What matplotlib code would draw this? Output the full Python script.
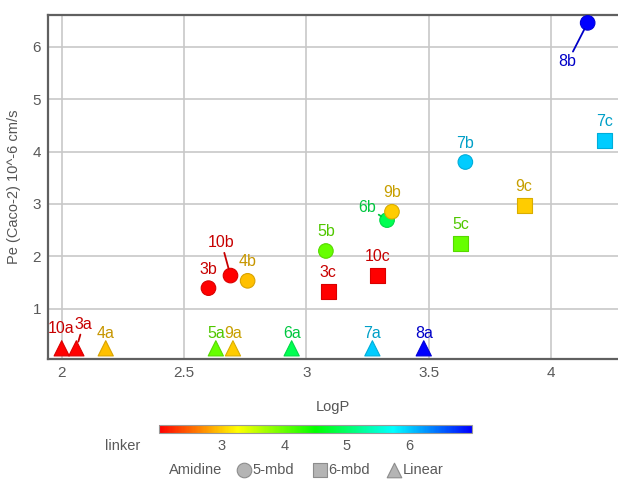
import numpy as np
import matplotlib

matplotlib.use("Agg")

import matplotlib.pyplot as plt
from matplotlib.colors import LinearSegmentedColormap, Normalize, to_rgb
from matplotlib.cm import ScalarMappable

plt.rcParams["font.family"] = ["Liberation Sans", "DejaVu Sans"]

# ------------------ data ------------------

compounds = ["10a", "3a", "4a", "5a", "9a", "6a", "7a", "8a",
             "3b", "10b", "4b", "5b", "6b", "9b", "7b", "8b",
             "3c", "10c", "5c", "9c", "7c"]
logp = [2.00, 2.06, 2.18, 2.63, 2.70, 2.94, 3.27, 3.48,
        2.60, 2.69, 2.76, 3.08, 3.33, 3.35, 3.65, 4.15,
        3.09, 3.29, 3.63, 3.89, 4.22]
pe = [0.24, 0.24, 0.24, 0.24, 0.24, 0.24, 0.24, 0.24,
      1.39, 1.63, 1.53, 2.10, 2.69, 2.85, 3.80, 6.46,
      1.32, 1.63, 2.25, 2.97, 4.22]
linker = [2.0, 2.0, 2.94, 4.0, 3.0, 4.9, 6.0, 7.0,
          2.0, 2.0, 2.94, 4.0, 4.9, 3.0, 6.0, 7.0,
          2.0, 2.0, 4.0, 3.0, 6.0]
amidine = ["Linear"] * 8 + ["5-mbd"] * 8 + ["6-mbd"] * 5

amidine_types = ["5-mbd", "6-mbd", "Linear"]
amidine_markers = {"5-mbd": "o", "6-mbd": "s", "Linear": "^"}
amidine_sizes = {"5-mbd": 110, "6-mbd": 115, "Linear": 120}

linker_ticks = [3, 4, 5, 6]
x_ticks = [2, 2.5, 3, 3.5, 4]
x_tick_labels = ["2", "2.5", "3", "3.5", "4"]
y_ticks = [1, 2, 3, 4, 5, 6]

# label offsets in pixels (dx, dy up); compounds not listed sit above their mark
label_offsets = {
    "10a": (-1, 20),
    "3a": (7, 24),
    "10b": (-9, 33),
    "6b": (-20, 13),
    "8b": (-20, -39),
}
leader_lines = ["3a", "10b", "6b", "8b"]

# ------------------ figure ------------------

W, H = 618, 479
fig = plt.figure(figsize=(W / 100, H / 100), dpi=100)

cmap = LinearSegmentedColormap.from_list(
    "linker", ["#ff0000", "#ffff00", "#00ff00", "#00ffff", "#0000ff"])
norm = Normalize(vmin=2, vmax=7)

ax_left, ax_top, ax_bottom = 48, 15, 359.3
ax = fig.add_axes([ax_left / W, 1 - ax_bottom / H,
                   (W - ax_left) / W, (ax_bottom - ax_top) / H])
ax.set_xlim(1.944, 4.274)
ax.set_ylim(0.03, 6.61)

ax.grid(True, color="#c8c8c8", linewidth=1.2)
ax.set_axisbelow(True)
for side in ["left", "top", "bottom"]:
    ax.spines[side].set_color("#606060")
    ax.spines[side].set_linewidth(1.6)
ax.spines["right"].set_visible(False)

ax.set_xticks(x_ticks)
ax.set_xticklabels(x_tick_labels)
ax.set_yticks(y_ticks)
ax.tick_params(length=0, labelsize=11, labelcolor="#595959", pad=5)

ax.set_xlabel("LogP", fontsize=10.5, color="#555555", labelpad=14)
ax.set_ylabel("Pe (Caco-2) 10^-6 cm/s", fontsize=10.5, color="#555555",
              labelpad=8)

logp = np.array(logp)
pe = np.array(pe)
linker = np.array(linker)
amidine = np.array(amidine)

for kind in amidine_types:
    mask = amidine == kind
    face = cmap(norm(linker[mask]))
    edge = face.copy()
    edge[:, :3] *= 0.85
    ax.scatter(logp[mask], pe[mask], c=face, edgecolors=edge,
               linewidths=0.8, marker=amidine_markers[kind],
               s=amidine_sizes[kind], zorder=3)

# point labels in a darker shade of the mark colour
for name, x, y, lk, kind in zip(compounds, logp, pe, linker, amidine):
    rgb = np.array(to_rgb(cmap(norm(lk)))) * 0.78
    if name in label_offsets:
        dx, dy = label_offsets[name]
    elif kind == "Linear":
        dx, dy = 0, 15
    else:
        dx, dy = 0, 19
    arrow = None
    if name in leader_lines:
        arrow = dict(arrowstyle="-", color=rgb, lw=1.3,
                     shrinkA=0, shrinkB=5)
    ax.annotate(name, (x, y), xytext=(dx * 0.72, dy * 0.72),
                textcoords="offset points", ha="center", va="center",
                fontsize=11.5, color=rgb, arrowprops=arrow, zorder=4)

# ------------------ colour bar ------------------

cax = fig.add_axes([159.3 / W, 1 - 433 / H, 312.4 / W, 8 / H])
cb = fig.colorbar(ScalarMappable(norm=norm, cmap=cmap), cax=cax,
                  orientation="horizontal")
cb.set_ticks(linker_ticks)
cb.outline.set_edgecolor("#999999")
cb.outline.set_linewidth(0.8)
cax.tick_params(length=0, labelsize=10.5, labelcolor="#595959", pad=4)
fig.text(123 / W, 1 - 446 / H, "linker", fontsize=10.5, color="#595959",
         ha="center", va="center")

# ------------------ amidine legend ------------------

lax = fig.add_axes([0, 0, 1, 1], facecolor="none")
lax.set_xlim(0, W)
lax.set_ylim(H, 0)
lax.axis("off")
legend_y = 470
lax.text(169, legend_y, "Amidine", fontsize=10.5, color="#595959",
         ha="left", va="center")
legend_x = [244, 320, 394]
for kind, lx in zip(amidine_types, legend_x):
    lax.scatter([lx], [legend_y], marker=amidine_markers[kind], s=110,
                c="#b4b4b4", edgecolors="#8c8c8c", linewidths=0.8)
    lax.text(lx + 8.5, legend_y, kind, fontsize=10.5, color="#595959",
             ha="left", va="center")

fig.savefig("out.png", dpi=100)
plt.close(fig)
